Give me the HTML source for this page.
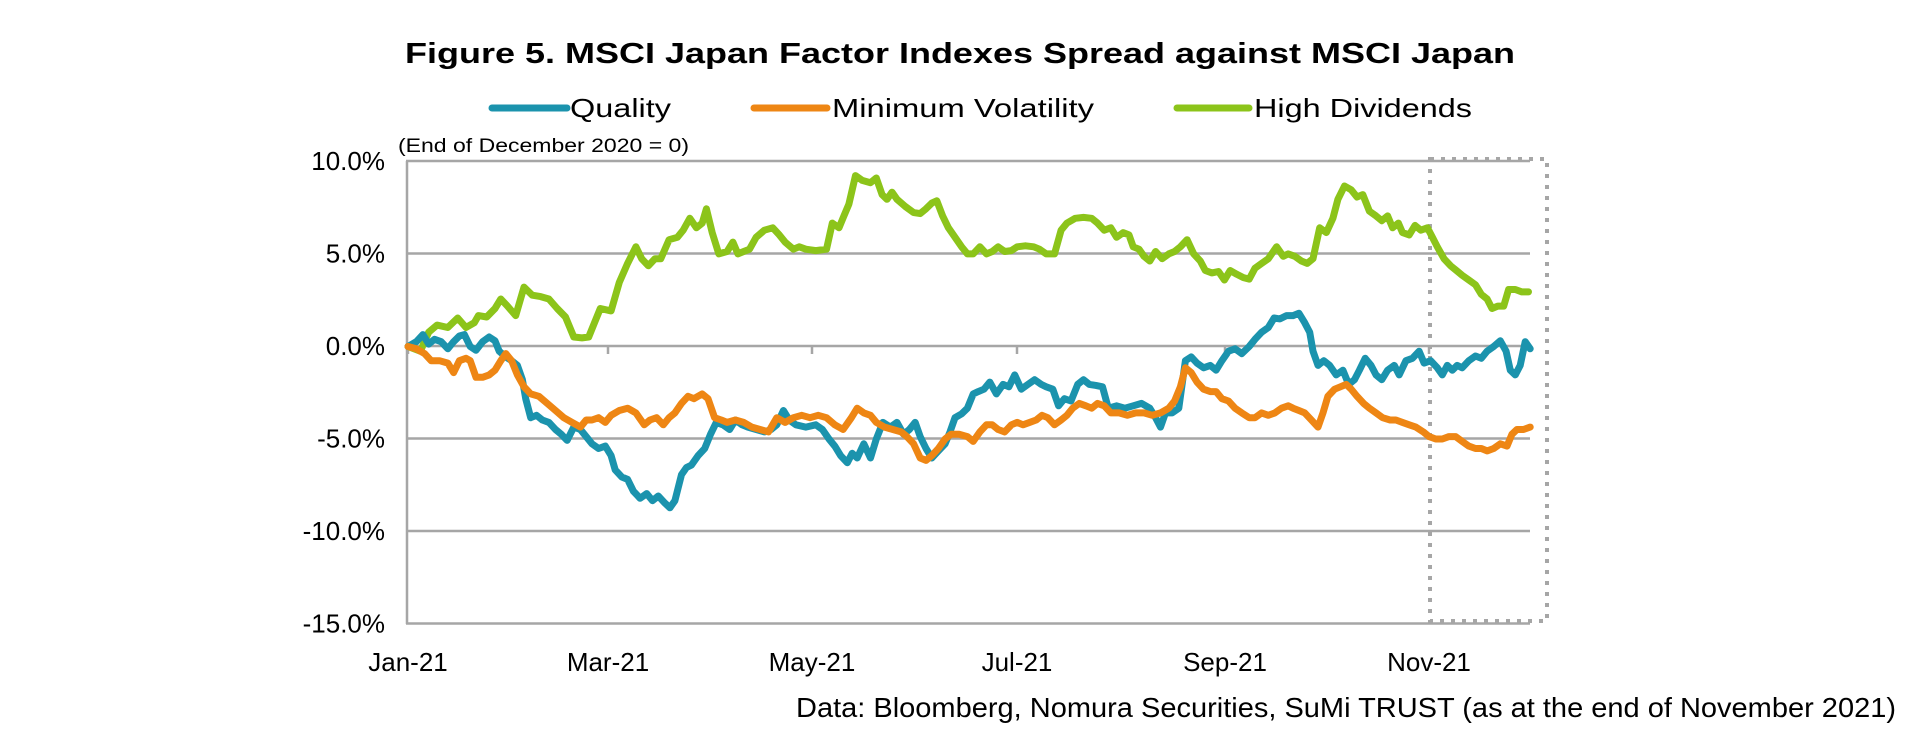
<!DOCTYPE html>
<html><head><meta charset="utf-8"><style>
html,body{margin:0;padding:0;background:#fff;width:1920px;height:744px;overflow:hidden}
svg{display:block}
text{font-family:"Liberation Sans",Arial,sans-serif;fill:#000}
</style></head><body>
<svg id="s" width="1920" height="744" viewBox="0 0 1920 744" xmlns="http://www.w3.org/2000/svg">
<text x="960" y="63" text-anchor="middle" font-size="29" font-weight="bold" textLength="1110" lengthAdjust="spacingAndGlyphs">Figure 5. MSCI Japan Factor Indexes Spread against MSCI Japan</text>
<line x1="492" y1="108" x2="567" y2="108" stroke="#1b93ad" stroke-width="7" stroke-linecap="round"/>
<text x="570" y="117" font-size="26" textLength="101" lengthAdjust="spacingAndGlyphs">Quality</text>
<line x1="754" y1="108" x2="827" y2="108" stroke="#ee8614" stroke-width="7" stroke-linecap="round"/>
<text x="832" y="117" font-size="26" textLength="262" lengthAdjust="spacingAndGlyphs">Minimum Volatility</text>
<line x1="1177" y1="108" x2="1249" y2="108" stroke="#8cc41a" stroke-width="7" stroke-linecap="round"/>
<text x="1254" y="117" font-size="26" textLength="218" lengthAdjust="spacingAndGlyphs">High Dividends</text>
<text x="398" y="152" font-size="19" textLength="291" lengthAdjust="spacingAndGlyphs">(End of December 2020 = 0)</text>
<g id="grid" stroke="#a6a6a6" stroke-width="2.5"></g>
<g id="ylab" font-size="26" text-anchor="end"></g>
<g id="xlab" font-size="26" text-anchor="middle"></g>
<rect x="1430" y="159" width="117" height="462" fill="none" stroke="#a6a6a6" stroke-width="4" stroke-dasharray="4 7"/>
<g id="series" fill="none" stroke-width="7" stroke-linejoin="round" stroke-linecap="round"></g>
<text x="1896" y="717" text-anchor="end" font-size="28" textLength="1100" lengthAdjust="spacingAndGlyphs">Data: Bloomberg, Nomura Securities, SuMi TRUST (as at the end of November 2021)</text>
</svg>
<script>
var NS="http://www.w3.org/2000/svg";
function el(p,t,a,txt){var e=document.createElementNS(NS,t);for(var k in a)e.setAttribute(k,a[k]);if(txt)e.textContent=txt;document.getElementById(p).appendChild(e);return e;}
var ys=[161,253.5,346,438.5,531,623.5],labs=["10.0%","5.0%","0.0%","-5.0%","-10.0%","-15.0%"];
ys.forEach(function(y,i){el("grid","line",{x1:406,y1:y,x2:1530,y2:y});el("ylab","text",{x:385,y:y+9},labs[i]);});
el("grid","line",{x1:407,y1:161,x2:407,y2:624});
var xt=[408,608,812,1017,1225,1429],xl=["Jan-21","Mar-21","May-21","Jul-21","Sep-21","Nov-21"];
xt.forEach(function(x,i){el("grid","line",{x1:x,y1:346,x2:x,y2:354});el("xlab","text",{x:x,y:671},xl[i]);});
function tr(a){var s=[];for(var i=0;i<a.length;i+=2){s.push(((a[i]-130)*(1123/1355)+408).toFixed(1)+","+(a[i+1]/2.107).toFixed(1));}return s.join(" ");}
var G=[130,730,145,740,155,700,165,685,178,690,190,670,200,690,210,680,215,665,225,668,235,650,242,630,250,645,260,665,270,605,280,622,290,625,300,630,310,650,320,668,330,710,340,712,348,710,355,680,362,650,375,655,385,595,395,555,405,520,412,545,420,560,428,545,435,545,445,505,455,500,462,485,470,460,478,480,485,470,490,440,497,490,505,535,515,530,522,510,528,535,535,530,542,525,550,500,560,485,570,480,578,495,585,510,595,525,602,520,610,525,622,528,635,525,642,470,650,480,656,455,662,430,670,370,678,380,688,385,695,375,702,410,708,420,714,405,720,420,730,435,740,448,748,450,755,440,762,428,768,423,775,455,782,480,790,500,798,520,805,535,812,535,820,520,828,535,835,530,842,520,850,530,858,528,865,520,875,518,885,520,892,525,900,535,910,535,918,485,925,470,935,460,945,458,955,460,962,470,970,485,978,480,985,500,993,490,1000,495,1005,520,1012,525,1018,540,1025,550,1032,530,1040,545,1048,535,1055,530,1062,520,1070,505,1078,535,1086,550,1092,570,1100,575,1108,572,1115,590,1122,570,1130,578,1138,585,1145,588,1152,565,1160,555,1168,545,1178,520,1186,540,1192,535,1200,540,1208,550,1215,555,1222,545,1230,480,1238,490,1246,460,1252,420,1260,392,1268,400,1275,415,1282,410,1290,445,1298,455,1305,465,1312,455,1318,480,1325,470,1330,490,1338,495,1345,475,1352,485,1360,480,1366,500,1372,520,1380,545,1388,560,1395,570,1402,580,1410,590,1418,600,1425,620,1432,630,1438,650,1445,645,1452,645,1458,610,1466,610,1474,615,1482,615];
var Q=[130,730,140,720,148,705,155,725,162,715,170,720,178,735,185,720,192,708,198,705,205,730,212,738,220,720,228,710,235,718,240,740,248,752,255,760,262,770,268,800,272,840,278,880,285,875,292,885,300,890,308,905,315,915,322,928,330,900,338,905,345,920,352,935,360,945,368,940,375,960,380,990,388,1005,395,1010,402,1035,410,1050,418,1040,425,1055,432,1045,440,1060,446,1070,452,1055,460,1000,466,985,472,980,480,960,488,945,495,915,502,890,510,895,518,905,525,885,533,895,540,900,550,905,560,910,568,905,575,895,583,865,590,885,598,895,610,900,622,895,630,905,638,925,645,940,652,960,660,975,666,955,672,965,680,935,688,965,695,925,703,890,712,900,720,890,728,915,735,905,742,890,748,920,755,945,762,965,770,950,778,935,784,910,790,880,798,872,805,860,812,830,818,825,825,820,832,805,840,830,848,810,855,815,862,790,870,820,878,810,886,800,894,810,900,815,908,820,915,855,922,840,930,845,938,810,945,800,952,810,960,812,968,815,975,860,985,855,995,860,1005,855,1015,850,1025,860,1032,880,1038,900,1044,870,1052,870,1060,860,1068,760,1075,752,1082,765,1090,775,1098,770,1105,780,1112,760,1120,740,1128,735,1136,745,1145,730,1152,715,1160,700,1168,690,1175,670,1182,672,1190,665,1198,665,1205,660,1212,680,1218,700,1222,740,1228,770,1235,760,1242,770,1250,790,1258,780,1265,810,1272,800,1278,780,1285,755,1292,770,1298,790,1305,800,1312,780,1320,770,1326,790,1334,760,1342,755,1350,740,1356,765,1364,760,1372,775,1378,790,1384,770,1390,780,1396,770,1402,775,1410,760,1418,750,1425,755,1432,740,1440,730,1448,718,1455,740,1460,780,1466,790,1472,770,1478,720,1484,735];
var M=[130,730,140,735,150,745,158,760,168,760,178,765,185,785,192,760,200,755,205,760,212,795,220,795,228,790,235,780,242,760,248,745,255,760,262,790,270,815,278,830,288,835,298,850,308,865,318,880,328,890,338,900,345,885,352,885,360,880,368,890,375,875,385,865,395,860,405,870,415,895,422,885,430,880,438,895,445,880,452,870,460,850,468,835,475,840,485,830,492,840,500,880,508,885,515,890,525,885,535,890,545,900,555,905,565,910,575,880,585,890,595,880,605,875,615,880,625,875,635,880,645,895,655,905,665,880,672,860,680,870,688,875,695,890,705,900,715,905,725,910,732,920,740,935,748,965,755,970,762,960,770,945,778,925,785,915,795,915,805,920,812,930,820,910,828,895,835,895,842,905,850,910,858,895,865,890,872,895,880,890,888,885,895,875,902,880,910,895,918,885,925,875,932,860,940,850,948,855,955,860,962,850,970,855,978,870,988,870,998,875,1008,870,1018,870,1028,875,1038,870,1048,860,1055,845,1062,815,1068,775,1075,785,1082,805,1090,820,1098,825,1105,825,1112,840,1120,845,1128,860,1136,870,1145,880,1152,880,1160,870,1168,875,1176,870,1184,860,1192,855,1198,860,1205,865,1212,870,1220,885,1228,900,1234,870,1240,835,1248,820,1255,815,1262,810,1268,820,1275,835,1283,850,1290,860,1298,870,1306,880,1315,885,1322,885,1330,890,1338,895,1346,900,1355,910,1362,920,1370,925,1378,925,1386,920,1394,920,1402,930,1410,940,1418,945,1425,945,1432,950,1440,945,1448,935,1456,940,1462,915,1468,905,1476,905,1484,900];
el("series","polyline",{points:tr(G),stroke:"#8cc41a"});
el("series","polyline",{points:tr(Q),stroke:"#1b93ad"});
el("series","polyline",{points:tr(M),stroke:"#ee8614"});
</script>
</body></html>
